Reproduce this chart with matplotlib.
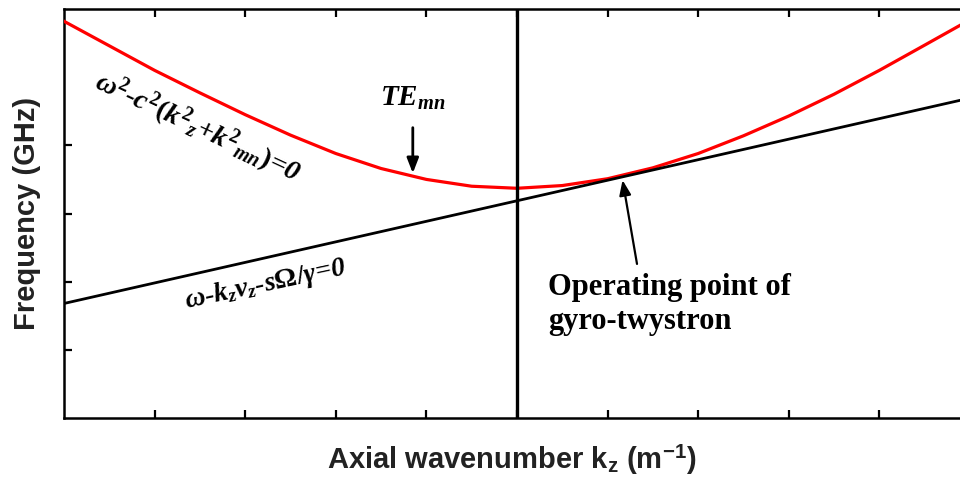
import matplotlib
matplotlib.use("Agg")
import matplotlib.pyplot as plt

# --- data (arbitrary units) ---
te_k = [0.00, 0.50, 1.00, 1.50, 2.00, 2.50, 3.00, 3.50, 4.00, 4.50, 5.00,
        5.50, 6.00, 6.50, 7.00, 7.50, 8.00, 8.50, 9.00, 9.50, 9.89]
te_f = [5.82, 5.46, 5.10, 4.77, 4.45, 4.15, 3.88, 3.66, 3.50, 3.40, 3.37,
        3.41, 3.51, 3.67, 3.88, 4.14, 4.43, 4.75, 5.10, 5.47, 5.76]
beam_k = [0.00, 9.89]
beam_f = [1.68, 4.66]
kz_line = 5.0
x_ticks = [1, 2, 3, 4, 5, 6, 7, 8, 9]
y_ticks = [1, 2, 3, 4]

plt.rcParams['mathtext.fontset'] = 'custom'
plt.rcParams['mathtext.rm'] = 'Liberation Serif:bold'
plt.rcParams['mathtext.it'] = 'Liberation Serif:italic:bold'
plt.rcParams['mathtext.bf'] = 'Liberation Serif:bold'
plt.rcParams['mathtext.sf'] = 'Liberation Sans:bold'

fig = plt.figure(figsize=(9.6, 4.84), dpi=100)
ax = fig.add_axes([64/960, (484-418)/484, (960-64)/960, (418-9)/484])

ax.plot(te_k, te_f, color='#ff0000', lw=2.3, solid_joinstyle='round', zorder=3)
ax.plot(beam_k, beam_f, color='black', lw=2.0, zorder=4)
ax.axvline(kz_line, color='black', lw=2.4, zorder=5)

ax.set_xlim(0, 9.89)
ax.set_ylim(0, 6.0)
ax.set_xticks(x_ticks)
ax.set_yticks(y_ticks)
ax.set_xticklabels([])
ax.set_yticklabels([])
ax.tick_params(direction='in', length=6, width=1.6, top=True, right=False)
for s in ['left', 'bottom', 'top']:
    ax.spines[s].set_linewidth(1.8)
ax.spines['right'].set_visible(False)

ax.set_xlabel(r'Axial wavenumber k$_\mathsf{z}$ (m$^\mathsf{-1}$)', fontsize=21,
              fontweight='bold', family='Liberation Sans', labelpad=15, color='#222222')
ax.set_ylabel('Frequency (GHz)', fontsize=21, fontweight='bold',
              family='Liberation Sans', labelpad=13, color='#222222')

serif_bi = dict(family='Liberation Serif', fontweight='bold', style='italic')
ax.text(1.47, 4.26, r'$\omega^2$-$c^2(k^2{}_z$+$k^2{}_{mn})$=0', fontsize=20.5,
        rotation=-25, ha='center', va='center', rotation_mode='anchor', **serif_bi)
ax.text(2.22, 1.95, r'$\omega$-$k_z v_z$-s$\Omega/\gamma$=0', fontsize=20,
        rotation=12, ha='center', va='center', rotation_mode='anchor', **serif_bi)
ax.text(3.85, 4.70, r'$TE_{mn}$', fontsize=21, ha='center', va='center')
ax.annotate('', xy=(3.85, 3.55), xytext=(3.85, 4.30),
            arrowprops=dict(arrowstyle='-|>,head_width=0.35,head_length=0.9',
                            color='black', lw=2))
ax.text(5.34, 1.66, 'Operating point of\ngyro-twystron', fontsize=22,
        fontweight='bold', family='Liberation Serif', ha='left', va='center',
        linespacing=1.22)
ax.annotate('', xy=(6.16, 3.53), xytext=(6.33, 2.22),
            arrowprops=dict(arrowstyle='-|>,head_width=0.35,head_length=0.9',
                            color='black', lw=1.6))

fig.savefig('out.png', dpi=100)
